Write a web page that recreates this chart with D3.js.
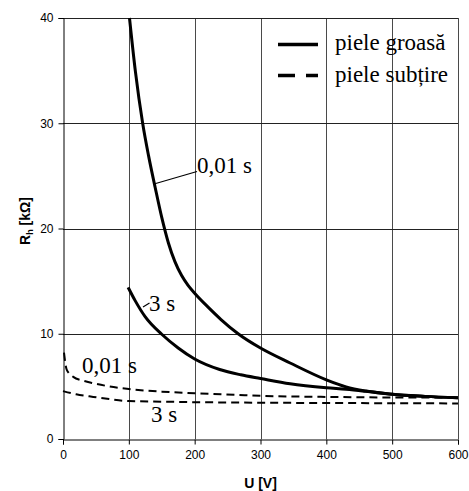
<!DOCTYPE html>
<html>
<head>
<meta charset="utf-8">
<script src="https://cdn.jsdelivr.net/npm/d3@7"></script>
<style>
  html, body { margin: 0; padding: 0; background: #fff; }
  svg { display: block; }
</style>
</head>
<body>
<svg id="chart" width="469" height="491"></svg>
<script>
// Body resistance R_h [kΩ] versus touch voltage U [V]
const xTicks = [0, 100, 200, 300, 400, 500, 600];
const yTicks = [0, 10, 20, 30, 40];

// thick skin, 0.01 s
const thickFastU = [101, 110, 121, 130, 140, 150, 160, 170, 180, 190, 200, 220, 240, 266, 300, 345, 400, 430, 460, 500, 550, 600];
const thickFastR = [40, 34.9, 30.0, 26.9, 23.9, 21.05, 18.65, 16.85, 15.55, 14.6, 13.85, 12.55, 11.35, 10.0, 8.64, 7.22, 5.62, 4.95, 4.56, 4.25, 4.05, 3.92];
// thick skin, 3 s
const thickSlowU = [99, 110, 125, 150, 175, 200, 238, 270, 300, 345, 400, 430, 460, 500, 550, 600];
const thickSlowR = [14.4, 13.1, 11.6, 9.95, 8.65, 7.6, 6.6, 6.1, 5.75, 5.25, 4.87, 4.72, 4.53, 4.25, 4.05, 3.92];
// thin skin, 0.01 s
const thinFastU = [1.5, 5.6, 15.6, 30, 46, 70, 100, 150, 200, 260, 300, 400, 500, 600];
const thinFastR = [8.2, 6.6, 5.9, 5.55, 5.3, 5.0, 4.75, 4.5, 4.35, 4.2, 4.1, 4.0, 3.95, 3.95];
// thin skin, 3 s
const thinSlowU = [0, 20, 46, 70, 100, 150, 200, 300, 400, 500, 600];
const thinSlowR = [4.55, 4.25, 4.0, 3.8, 3.6, 3.55, 3.5, 3.45, 3.42, 3.4, 3.38];

const legendLabels = ["piele groasă", "piele subțire"];

const svg = d3.select("#chart");
const margin = { left: 63, top: 18, right: 11, bottom: 52 };
const W = 469, H = 491;
const x = d3.scaleLinear().domain([0, 600]).range([margin.left, W - margin.right]);
const y = d3.scaleLinear().domain([0, 40]).range([H - margin.bottom, margin.top]);

const sans = "'Liberation Sans', Arial, sans-serif";
const serif = "'Liberation Serif', 'Times New Roman', serif";

// grid
const grid = svg.append("g");
grid.selectAll("line.v").data(xTicks.filter(d => d > 0)).enter().append("line")
  .attr("x1", d => Math.round(x(d)) + 0.5).attr("x2", d => Math.round(x(d)) + 0.5)
  .attr("y1", y(40)).attr("y2", y(0))
  .attr("stroke", "#4a4a4a").attr("stroke-width", 1);
grid.selectAll("line.h").data(yTicks.filter(d => d > 0)).enter().append("line")
  .attr("x1", x(0)).attr("x2", x(600))
  .attr("y1", d => Math.round(y(d)) + 0.5).attr("y2", d => Math.round(y(d)) + 0.5)
  .attr("stroke", "#222").attr("stroke-width", 1);

// axes
const xAxis = d3.axisBottom(x).tickValues(xTicks).tickSize(5).tickPadding(6);
const yAxis = d3.axisLeft(y).tickValues(yTicks).tickSize(5).tickPadding(5);
const gx = svg.append("g").attr("transform", `translate(0,${Math.round(y(0)) + 0.5})`).call(xAxis);
const gy = svg.append("g").attr("transform", `translate(${Math.round(x(0)) + 0.5},0)`).call(yAxis);
[gx, gy].forEach(g => {
  g.select(".domain").attr("stroke", "#000").attr("stroke-width", 1);
  g.selectAll(".tick line").attr("stroke", "#000");
  g.selectAll("text").attr("font-family", sans).attr("font-size", 12).attr("fill", "#000");
});

// axis titles
svg.append("text")
  .attr("x", x(300)).attr("y", 488)
  .attr("text-anchor", "middle")
  .attr("font-family", sans).attr("font-size", 14).attr("font-weight", "bold")
  .text("U [V]");
const yt = svg.append("text")
  .attr("transform", "translate(30,221) rotate(-90)")
  .attr("text-anchor", "middle")
  .attr("font-family", sans).attr("font-size", 14).attr("font-weight", "bold");
yt.append("tspan").text("R");
yt.append("tspan").attr("font-size", 9).attr("dy", 3).text("h");
yt.append("tspan").attr("dy", -3).text(" [kΩ]");

// curves
const line = d3.line().x(d => x(d[0])).y(d => y(d[1])).curve(d3.curveMonotoneX);
const zip = (u, r) => u.map((v, i) => [v, r[i]]);
const series = [
  { pts: zip(thickFastU, thickFastR), w: 3, dash: null },
  { pts: zip(thickSlowU, thickSlowR), w: 3, dash: null },
  { pts: zip(thinFastU, thinFastR), w: 2, dash: "8,5" },
  { pts: zip(thinSlowU, thinSlowR), w: 2, dash: "8,5" }
];
svg.append("g").selectAll("path").data(series).enter().append("path")
  .attr("d", d => line(d.pts))
  .attr("fill", "none").attr("stroke", "#000")
  .attr("stroke-width", d => d.w)
  .attr("stroke-dasharray", d => d.dash);

// curve annotations
const ann = svg.append("g").attr("font-family", serif).attr("font-size", 23).attr("fill", "#000");
ann.append("line").attr("x1", 154).attr("y1", 184).attr("x2", 197).attr("y2", 171.5)
  .attr("stroke", "#000").attr("stroke-width", 1.2);
ann.append("text").attr("x", 197).attr("y", 173).text("0,01 s");
ann.append("line").attr("x1", 143).attr("y1", 307).attr("x2", 149.5).attr("y2", 303)
  .attr("stroke", "#000").attr("stroke-width", 1.2);
ann.append("text").attr("x", 149).attr("y", 311).text("3 s");
ann.append("text").attr("x", 82).attr("y", 373).text("0,01 s");
ann.append("text").attr("x", 151).attr("y", 422).text("3 s");

// legend
const lg = svg.append("g");
lg.append("line").attr("x1", 278).attr("x2", 318).attr("y1", 44.5).attr("y2", 44.5)
  .attr("stroke", "#000").attr("stroke-width", 3.5);
lg.append("line").attr("x1", 278).attr("x2", 318).attr("y1", 75.5).attr("y2", 75.5)
  .attr("stroke", "#000").attr("stroke-width", 3.5).attr("stroke-dasharray", "17,11");
lg.selectAll("text").data(legendLabels).enter().append("text")
  .attr("x", 335).attr("y", (d, i) => 50 + i * 32)
  .attr("font-family", serif).attr("font-size", 23).attr("fill", "#000")
  .text(d => d);
</script>
</body>
</html>
